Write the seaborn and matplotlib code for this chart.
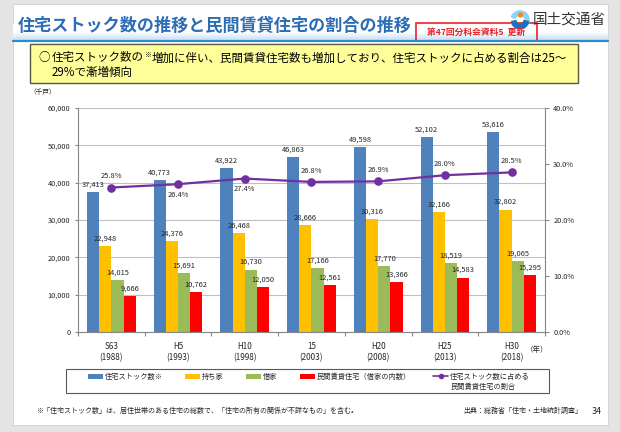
import numpy as np
import pandas as pd
import matplotlib
matplotlib.use("Agg")
import matplotlib.pyplot as plt
import matplotlib.patches as mpatches
from matplotlib.lines import Line2D
from matplotlib.ticker import FuncFormatter
import seaborn as sns

# ---------------- data ----------------
years = ["S63\n(1988)", "H5\n(1993)", "H10\n(1998)", "15\n(2003)",
         "H20\n(2008)", "H25\n(2013)", "H30\n(2018)"]
housing_stock = [37413, 40773, 43922, 46863, 49598, 52102, 53616]
owner_occupied = [22948, 24376, 26468, 28666, 30316, 32166, 32802]
rented = [14015, 15691, 16730, 17166, 17770, 18519, 19065]
private_rental = [9666, 10762, 12050, 12561, 13366, 14583, 15295]
private_share = [25.8, 26.4, 27.4, 26.8, 26.9, 28.0, 28.5]

series_names = ["住宅ストック数※", "持ち家", "借家", "民間賃貸住宅（借家の内数）"]
line_name_1 = "住宅ストック数に占める"
line_name_2 = "民間賃貸住宅の割合"
y_ticks = [0, 10000, 20000, 30000, 40000, 50000, 60000]
pct_ticks = [0, 10, 20, 30, 40]

# layout only: whether the % label sits above (True) or below the point
share_label_above = [True, False, False, True, True, True, True]

# ---------------- style ----------------
sns.set_style("white")
plt.rcParams["font.family"] = ["Noto Sans CJK JP", "DejaVu Sans"]
plt.rcParams["axes.unicode_minus"] = False

colors = ["#4F81BD", "#FFC000", "#9BBB59", "#FF0000"]
line_color = "#7030A0"
axis_gray = "#868686"
text_dark = "#262626"

W, H = 620, 432
fig = plt.figure(figsize=(W / 100, H / 100), dpi=100, facecolor="#E4E4E4")


def fx(x):
    return x / W


def fy(y):
    return 1 - y / H


# slide background
fig.patches.append(mpatches.Rectangle((fx(13), fy(425)), fx(608) - fx(13), fy(4) - fy(425),
                                      transform=fig.transFigure, facecolor="white",
                                      edgecolor="#D0D0D0", lw=0.6, zorder=-3))

# title band gradient
band = fig.add_axes([fx(13), fy(40), fx(608) - fx(13), fy(24) - fy(40)])
band.set_zorder(-2)
grad = np.linspace(0, 1, 50).reshape(-1, 1)
band.imshow(grad, aspect="auto", cmap=matplotlib.colors.LinearSegmentedColormap.from_list(
    "b", ["#FFFFFF", "#FFFFFF", "#C9E0F3"]), extent=[0, 1, 0, 1], origin="upper")
band.axis("off")
fig.lines.append(Line2D([fx(13), fx(608)], [fy(40.5), fy(40.5)], transform=fig.transFigure,
                        color="#2E8BCB", lw=1.6))

# title
fig.text(fx(18), fy(26), "住宅ストック数の推移と民間賃貸住宅の割合の推移", fontsize=12.3,
         weight="bold", color="#2C6DB5", ha="left", va="center")

# red box
fig.patches.append(mpatches.Rectangle((fx(416), fy(41)), fx(537) - fx(416), fy(23) - fy(41),
                                      transform=fig.transFigure, facecolor="none",
                                      edgecolor="#E8222A", lw=1.2))
fig.text(fx(476.5), fy(32.5), "第47回分科会資料5  更新", fontsize=6.3, weight="bold",
         color="#E8222A", ha="center", va="center")

# logo
logo = fig.add_axes([fx(510), fy(30), fx(530) - fx(510), fy(10) - fy(30)])
logo.set_zorder(2)
logo.set_xlim(-1.1, 1.1)
logo.set_ylim(-1.1, 1.1)
logo.set_aspect("equal")
logo.add_patch(mpatches.Wedge((0, 0), 1.0, 200, 520, width=0.45, color="#8FD3F4"))
logo.add_patch(mpatches.Wedge((0, 0), 0.95, 190, 350, width=0.5, color="#1E6FC0"))
logo.add_patch(mpatches.Circle((0.05, 0.55), 0.22, color="#F08A24"))
logo.axis("off")
fig.text(fx(569), fy(20), "国土交通省", fontsize=10.5, color="#333333",
         ha="center", va="center")

# yellow message box
fig.patches.append(mpatches.Rectangle((fx(30), fy(83)), fx(578) - fx(30), fy(44) - fy(83),
                                      transform=fig.transFigure, facecolor="#FFFF99",
                                      edgecolor="#5A5A40", lw=1.0, zorder=-1))
fig.text(fx(38), fy(58), "○", fontsize=8.3, color="black", ha="left", va="center")
t_a = fig.text(fx(52), fy(58), "住宅ストック数の", fontsize=8.3, color="black",
               ha="left", va="center")
fig.canvas.draw()
rend = fig.canvas.get_renderer()
bb = t_a.get_window_extent(rend)
t_b = fig.text((bb.x1 + 0.5) / fig.bbox.width, fy(55), "※", fontsize=5, color="black",
               ha="left", va="center")
bb2 = t_b.get_window_extent(rend)
fig.text((bb2.x1 + 0.5) / fig.bbox.width, fy(58),
         "増加に伴い、民間賃貸住宅数も増加しており、住宅ストックに占める割合は25～",
         fontsize=8.3, color="black", ha="left", va="center")
fig.text(fx(52), fy(72), "29%で漸増傾向", fontsize=8.3, color="black", ha="left", va="center")

# ---------------- chart ----------------
ax = fig.add_axes([fx(78), fy(332), fx(545) - fx(78), fy(108) - fy(332)])
df = pd.DataFrame({
    "year": years * 4,
    "series": np.repeat(series_names, len(years)),
    "value": housing_stock + owner_occupied + rented + private_rental,
})
sns.barplot(data=df, x="year", y="value", hue="series", order=years,
            hue_order=series_names, palette=colors, width=0.73, saturation=1,
            linewidth=0, errorbar=None, ax=ax)
bar_handles, bar_labels = ax.get_legend_handles_labels()
if ax.get_legend() is not None:
    ax.get_legend().remove()

for cont in ax.containers:
    ax.bar_label(cont, fmt="{:,.0f}", padding=2.5, fontsize=5.4, color=text_dark)

ax.set_ylim(0, 60000)
ax.set_yticks(y_ticks)
ax.yaxis.set_major_formatter(FuncFormatter(lambda v, p: f"{v:,.0f}"))
ax.set_xlabel("")
ax.set_ylabel("")
ax.set_axisbelow(True)
ax.yaxis.grid(True, color="#BFBFBF", lw=0.8)
ax.xaxis.grid(False)
for s in ["top", "right"]:
    ax.spines[s].set_visible(False)
for s in ["left", "bottom"]:
    ax.spines[s].set_color(axis_gray)
    ax.spines[s].set_linewidth(0.8)

ax2 = ax.twinx()
sns.pointplot(x=years, y=private_share, order=years, ax=ax2, color=line_color,
              markers="o", markersize=5, linewidth=1.6, errorbar=None)
ax2.set_ylim(0, 40)
ax2.set_yticks(pct_ticks)
ax2.yaxis.set_major_formatter(FuncFormatter(lambda v, p: f"{v:.1f}%"))
ax2.set_ylabel("")
ax2.set_xlabel("")
ax2.grid(False)
for s in ["top", "left", "bottom"]:
    ax2.spines[s].set_visible(False)
ax2.spines["right"].set_visible(True)
ax2.spines["right"].set_color(axis_gray)
ax2.spines["right"].set_linewidth(0.8)
ax2.tick_params(axis="y", right=True, length=3, width=0.8, color=axis_gray,
                labelsize=5.3, labelcolor=text_dark, pad=3)

for i, (v, above) in enumerate(zip(private_share, share_label_above)):
    ax2.annotate(f"{v:.1f}%", (i, v), xytext=(0, 8 if above else -7.5),
                 textcoords="offset points", ha="center", va="center",
                 fontsize=5.4, color=text_dark)

ax.set_xlim(-0.5, len(years) - 0.5)
ax.set_xticks(range(len(years)))
ax.set_xticklabels(years)
ax.set_xticks(np.arange(-0.5, len(years)), minor=True)
ax.tick_params(axis="x", which="major", bottom=True, length=0, labelsize=5.8,
               labelcolor=text_dark, pad=7)
ax.tick_params(axis="x", which="minor", bottom=True, length=3, width=0.8, color=axis_gray)
ax.tick_params(axis="y", which="major", left=True, length=2.5, width=0.8, color=axis_gray,
               labelsize=5.3, labelcolor=text_dark, pad=3)
for lab in ax.get_xticklabels():
    lab.set_linespacing(1.35)

fig.text(fx(43), fy(92), "（千戸）", fontsize=4.8, color=text_dark, ha="center", va="center")
fig.text(fx(537), fy(350), "（年）", fontsize=5.4, color=text_dark, ha="center", va="center")

# ---------------- legend ----------------
fig.patches.append(mpatches.Rectangle((fx(66), fy(393)), fx(549) - fx(66), fy(369) - fy(393),
                                      transform=fig.transFigure, facecolor="white",
                                      edgecolor="#595959", lw=0.8, zorder=-1))
line_handle = Line2D([], [], color=line_color, lw=1.2, marker="o", markersize=3)
leg = fig.legend(bar_handles + [line_handle], bar_labels + [line_name_1],
                 loc="center left", bbox_to_anchor=(fx(88), fy(377), fx(530) - fx(88), 0),
                 mode="expand", ncol=5, frameon=False, fontsize=5.2, handlelength=2.1,
                 handleheight=0.7, handletextpad=0.25, borderpad=0, borderaxespad=0,
                 columnspacing=1.0)
for t in leg.get_texts():
    t.set_color(text_dark)
fig.canvas.draw()
lbb = leg.get_texts()[-1].get_window_extent(fig.canvas.get_renderer())
fig.text(lbb.x0 / fig.bbox.width, fy(387.5), line_name_2, fontsize=5.2, color=text_dark,
         ha="left", va="center")

# footnotes
fig.text(fx(36), fy(411), "※「住宅ストック数」は、居住世帯のある住宅の総数で、「住宅の所有の関係が不詳なもの」を含む。",
         fontsize=5.0, color=text_dark, ha="left", va="center")
fig.text(fx(582), fy(411), "出典：総務省「住宅・土地統計調査」", fontsize=5.0, color=text_dark,
         ha="right", va="center")
fig.text(fx(597), fy(411), "34", fontsize=6.5, color=text_dark, ha="center", va="center")

fig.savefig("out.png", dpi=100, facecolor=fig.get_facecolor())
